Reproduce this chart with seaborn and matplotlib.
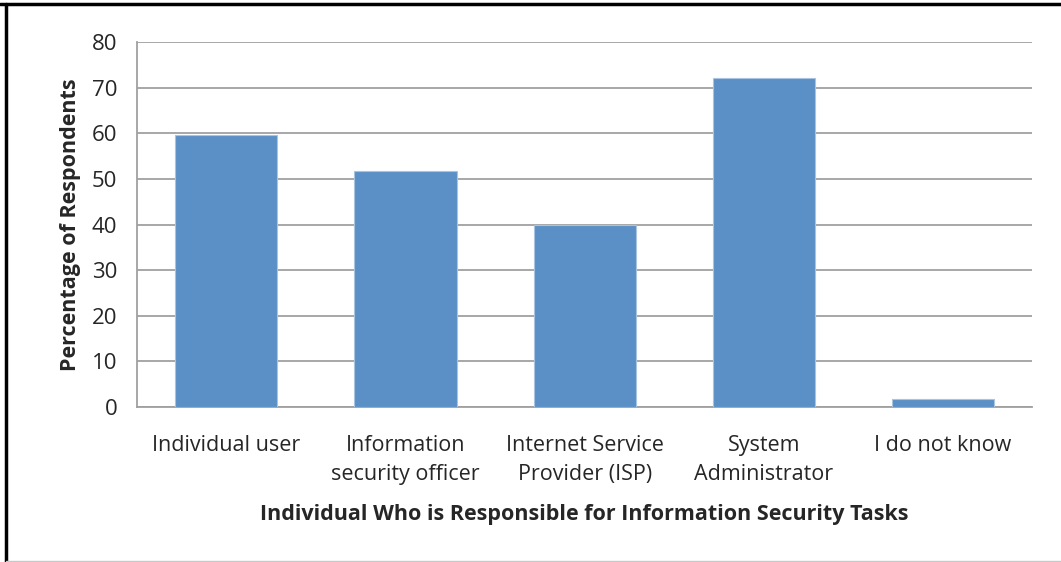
import pandas as pd
import matplotlib
matplotlib.use('Agg')
from matplotlib import pyplot as plt
from matplotlib.lines import Line2D
import seaborn as sns

# values
categories = ['Individual user', 'Information\nsecurity officer', 'Internet Service\nProvider (ISP)',
              'System\nAdministrator', 'I do not know']
percentages = [59.6, 51.8, 39.8, 72.1, 1.8]
y_ticks = [0, 10, 20, 30, 40, 50, 60, 70, 80]

df = pd.DataFrame({'who': categories, 'pct': percentages})

sns.set_style('white')
plt.rcParams['font.family'] = ['Liberation Sans Narrow', 'Open Sans', 'DejaVu Sans']

fig = plt.figure(figsize=(10.61, 5.62), dpi=100)
ax = fig.add_axes([0.129, 0.2758, 0.844, 0.6494])

sns.barplot(data=df, x='who', y='pct', color='#5b90c6', width=0.57,
            edgecolor='#a9c4e2', linewidth=0.8, saturation=1, ax=ax, zorder=3)

ax.set_ylim(0, 80)
ax.set_yticks(y_ticks)
ax.set_xlim(-0.5, 4.5)
ax.yaxis.grid(True, color='#a0a0a0', linewidth=1.3, zorder=0)
ax.set_axisbelow(True)
for side in ['top', 'right']:
    ax.spines[side].set_visible(False)
ax.spines['left'].set_color('#a0a0a0')
ax.spines['bottom'].set_color('#a0a0a0')
ax.spines['left'].set_linewidth(1.3)
ax.spines['bottom'].set_linewidth(1.3)
ax.tick_params(axis='y', length=6, color='#a0a0a0', width=1.3, labelsize=16, pad=8)
ax.tick_params(axis='x', length=0, labelsize=15.5, pad=20)
for lab in ax.get_xticklabels():
    lab.set_linespacing(1.5)

ax.set_xlabel('Individual Who is Responsible for Information Security Tasks', fontsize=15.5,
              fontweight='bold', labelpad=14)
ax.set_ylabel('Percentage of Respondents', fontsize=15.5, fontweight='bold', labelpad=8)

# screenshot frame: black top and left edge, faint grey bottom edge
fig.add_artist(Line2D([0, 1], [0.9925, 0.9925], transform=fig.transFigure, color='black', linewidth=2.5))
fig.add_artist(Line2D([0.0055, 0.0055], [0, 0.993], transform=fig.transFigure, color='black', linewidth=2.5))
fig.add_artist(Line2D([0.0055, 1], [0.002, 0.002], transform=fig.transFigure, color='#c8c8c8', linewidth=1))

fig.savefig('out.png', dpi=100)
